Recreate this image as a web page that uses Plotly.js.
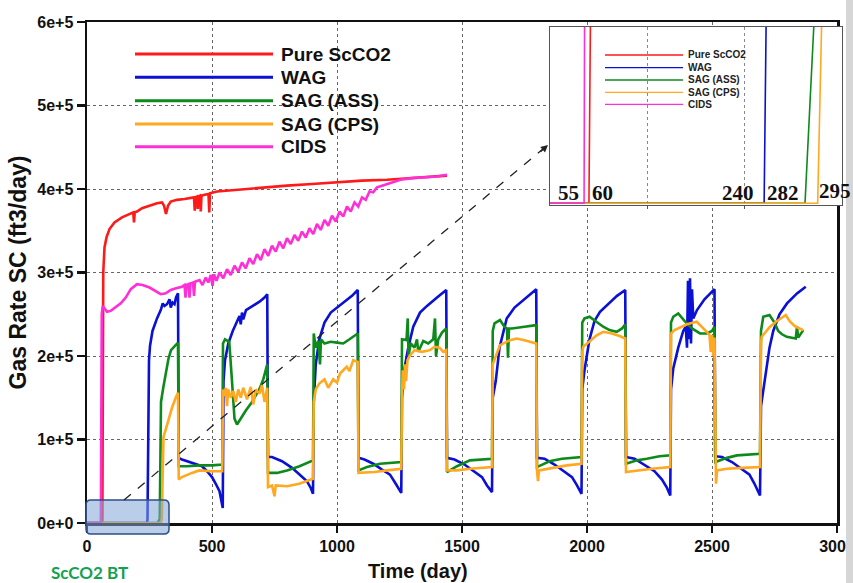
<!DOCTYPE html>
<html>
<head>
<meta charset="utf-8">
<script src="https://cdn.plot.ly/plotly-3.0.1.min.js"></script>
<style>html,body{margin:0;padding:0;background:#fff;}#chart{width:853px;height:583px;}</style>
</head>
<body>
<div id="chart"></div>
<script>
// ---------------- DATA (gas rate in units of 1e5 ft3/day) ----------------
const seriesNames = ['Pure ScCO2', 'WAG', 'SAG (ASS)', 'SAG (CPS)', 'CIDS'];
const seriesColors = ['#ff1a1a', '#0a10d4', '#0e8a1c', '#ffa820', '#ff2fd6'];

const pureScco2Points = [[0,0],[60,0],[61.5,0.05],[63,2.0],[65,3.0],[70,3.3],[78,3.42],[90,3.52],[110,3.6],[140,3.66],
 [170,3.7],[185,3.72],[188,3.6],[191,3.72],[200,3.73],[220,3.77],[250,3.8],[280,3.83],[300,3.84],[308,3.8],
 [316,3.7],[324,3.8],[335,3.85],[360,3.87],[390,3.88],[420,3.9],[428,3.9],[431,3.74],[434,3.9],[440,3.91],
 [443,3.76],[446,3.91],[452,3.92],[455,3.73],[458,3.92],[470,3.93],[486,3.94],[489,3.72],[492,3.95],[520,3.97],
 [600,3.99],[700,4.02],[800,4.04],[900,4.06],[1000,4.08],[1100,4.1],[1200,4.11],[1300,4.13],[1400,4.15],[1440,4.16]];

const wagPoints = [[0,0],[240,0],[242,0.05],[245,1.6],[248,1.95],[252,2.12],[262,2.3],[280,2.45],[295,2.55],[303,2.63],[310,2.6],[320,2.62],[330,2.68],[335,2.58],[342,2.64],[350,2.62],[356,2.7],[364,2.75],
 [367,0.78],[380,0.76],[420,0.72],[460,0.68],[480,0.62],[500,0.55],[515,0.47],[530,0.38],[543,0.18],
 [546,1.7],[552,1.95],[565,2.15],[583,2.3],[600,2.42],[610,2.48],[615,2.38],[620,2.52],[625,2.44],[636,2.55],[663,2.6],[690,2.65],[710,2.7],[721,2.74],
 [724,0.79],[740,0.79],[780,0.74],[820,0.66],[850,0.58],[880,0.5],[895,0.42],[904,0.35],
 [907,1.45],[915,1.9],[929,2.2],[950,2.4],[975,2.52],[1000,2.58],[1030,2.65],[1060,2.72],[1083,2.79],
 [1086,0.78],[1110,0.76],[1145,0.71],[1180,0.64],[1212,0.58],[1235,0.47],[1257,0.36],
 [1260,1.5],[1270,1.85],[1285,2.1],[1305,2.35],[1332,2.52],[1360,2.6],[1400,2.7],[1437,2.79],
 [1440,0.78],[1470,0.76],[1510,0.7],[1550,0.62],[1580,0.55],[1600,0.45],[1620,0.37],
 [1623,1.5],[1635,1.7],[1650,2.1],[1679,2.45],[1710,2.58],[1750,2.68],[1797,2.8],
 [1800,0.78],[1830,0.77],[1870,0.7],[1910,0.62],[1940,0.55],[1960,0.45],[1978,0.35],
 [1981,1.6],[1990,1.83],[2010,2.2],[2030,2.42],[2052,2.53],[2090,2.64],[2120,2.72],[2153,2.79],
 [2156,0.79],[2190,0.77],[2230,0.7],[2270,0.62],[2300,0.52],[2320,0.42],[2333,0.33],
 [2336,1.6],[2345,1.85],[2365,2.1],[2385,2.3],[2395,2.35],[2400,2.1],[2404,2.9],[2408,2.2],[2412,2.93],[2416,2.15],[2420,2.8],[2425,2.45],[2440,2.55],[2470,2.68],[2510,2.8],
 [2513,0.8],[2540,0.79],[2580,0.73],[2620,0.65],[2650,0.58],[2670,0.47],[2692,0.33],
 [2696,1.4],[2710,1.7],[2730,2.1],[2745,2.3],[2770,2.5],[2800,2.63],[2840,2.75],[2875,2.83]];

const sagAssPoints = [[0,0],[282,0],[291,0.05],[293,1.0],[296,1.45],[305,1.62],[316,1.83],[326,1.97],[336,2.07],[350,2.12],[364,2.16],
 [367,0.68],[400,0.68],[450,0.69],[500,0.69],[541,0.7],
 [544,2.15],[552,2.2],[569,2.17],[580,1.7],[590,1.25],[600,1.18],[620,1.28],[636,1.35],[660,1.45],[689,1.6],[705,1.72],[716,1.87],[721,1.9],
 [724,0.6],[760,0.6],[800,0.63],[850,0.68],[904,0.75],
 [907,2.27],[915,2.1],[925,2.18],[932,1.9],[936,2.2],[950,2.15],[975,2.17],[1000,2.16],[1025,2.15],[1050,2.2],[1065,2.23],[1083,2.27],
 [1086,0.63],[1120,0.67],[1172,0.71],[1220,0.72],[1257,0.73],
 [1260,2.2],[1278,2.19],[1283,2.45],[1286,2.0],[1295,2.15],[1310,2.1],[1320,2.2],[1325,2.05],[1345,2.18],[1365,2.15],[1385,2.2],[1392,2.45],[1396,2.0],[1405,2.2],[1420,2.28],[1437,2.33],
 [1440,0.61],[1480,0.68],[1532,0.75],[1580,0.76],[1620,0.77],
 [1623,2.3],[1630,2.39],[1652,2.43],[1670,2.35],[1680,2.33],[1684,1.98],[1688,2.33],[1700,2.33],[1750,2.35],[1797,2.37],
 [1800,0.67],[1850,0.74],[1900,0.77],[1978,0.79],
 [1981,2.4],[1990,2.45],[2010,2.47],[2040,2.4],[2065,2.35],[2090,2.31],[2119,2.29],[2140,2.33],[2153,2.38],
 [2156,0.71],[2200,0.75],[2239,0.77],[2290,0.8],[2333,0.81],
 [2336,2.4],[2345,2.47],[2365,2.51],[2390,2.42],[2420,2.33],[2452,2.27],[2480,2.27],[2500,2.3],[2510,2.35],
 [2513,0.73],[2560,0.78],[2600,0.81],[2650,0.82],[2692,0.83],
 [2696,2.3],[2705,2.47],[2730,2.49],[2750,2.4],[2765,2.3],[2780,2.26],[2799,2.23],[2820,2.22],[2835,2.21],[2840,2.35],[2845,2.22],[2865,2.31]];

const sagCpsPoints = [[0,0],[295,0],[299,0.05],[302,0.7],[306,1.03],[318,1.15],[329,1.27],[340,1.38],[356,1.51],[364,1.56],
 [367,0.52],[380,0.55],[420,0.6],[449,0.63],[500,0.62],[541,0.62],
 [544,1.6],[550,1.52],[555,1.62],[560,1.4],[565,1.6],[575,1.5],[585,1.58],[595,1.45],[605,1.6],[615,1.5],[625,1.62],[640,1.48],[655,1.63],[665,1.42],[675,1.6],[690,1.55],[700,1.65],[710,1.45],[721,1.62],
 [724,0.43],[740,0.45],[750,0.32],[755,0.45],[800,0.44],[849,0.47],[904,0.53],
 [907,1.45],[915,1.6],[929,1.67],[950,1.72],[965,1.62],[985,1.72],[1000,1.68],[1012,1.79],[1039,1.87],[1050,1.82],[1065,1.95],[1083,1.93],
 [1086,0.6],[1150,0.61],[1200,0.63],[1257,0.65],
 [1260,1.5],[1263,1.83],[1268,1.6],[1272,1.9],[1276,1.7],[1282,1.95],[1290,2.0],[1310,2.07],[1340,2.05],[1372,2.07],[1390,2.11],[1410,2.1],[1425,2.05],[1437,2.07],
 [1440,0.63],[1480,0.63],[1532,0.65],[1620,0.67],
 [1623,1.9],[1635,2.0],[1652,2.13],[1692,2.19],[1719,2.21],[1750,2.19],[1772,2.17],[1797,2.15],
 [1800,0.63],[1804,0.5],[1808,0.63],[1860,0.66],[1920,0.69],[1978,0.71],
 [1981,2.05],[1985,2.11],[2010,2.17],[2040,2.25],[2065,2.29],[2100,2.27],[2130,2.24],[2153,2.21],
 [2156,0.61],[2200,0.63],[2260,0.65],[2333,0.67],
 [2336,2.27],[2350,2.31],[2380,2.35],[2400,2.38],[2439,2.41],[2460,2.35],[2479,2.29],[2490,2.25],[2495,2.05],[2500,2.25],[2505,2.0],[2510,2.22],
 [2513,0.63],[2516,0.47],[2520,0.63],[2560,0.65],[2620,0.66],[2692,0.67],
 [2696,2.15],[2699,2.23],[2732,2.35],[2760,2.42],[2785,2.47],[2795,2.49],[2810,2.42],[2830,2.36],[2850,2.33],[2865,2.31]];

const cidsPoints = [[0,0],[55,0],[55.5,0.05],[57,1.5],[59,2.5],[63,2.6],[70,2.57],[80,2.53],[95,2.54],[115,2.58],[135,2.63],[155,2.7],[175,2.8],[200,2.86],[222,2.85],[250,2.82],[276,2.77],[295,2.74],[315,2.75],[335,2.79],[356,2.81],[380,2.83],[390,2.85],[394,2.7],[398,2.85],[406,2.86],[410,2.7],[414,2.87],[424,2.88],[428,2.72],[432,2.89],[450,2.91],[462,2.85],[475,2.94],[485,2.88],[495,2.97],[502,2.84],[508,2.98],[518,2.9],[530,3.0],[545,2.93],[560,3.04],[575,2.97],[590,3.08],[605,3.01],[620,3.12],[635,3.05],[650,3.17],[665,3.1],[680,3.22],[695,3.15],[710,3.28],[725,3.2],[740,3.32],[755,3.25],[770,3.37],[785,3.29],[800,3.41],[815,3.34],[830,3.45],[845,3.38],[860,3.49],[875,3.42],[890,3.53],[905,3.46],[920,3.58],[935,3.51],[950,3.63],[965,3.56],[980,3.68],[995,3.61],[1010,3.73],[1025,3.67],[1040,3.79],[1055,3.73],[1070,3.84],[1085,3.79],[1100,3.9],[1115,3.87],[1130,3.97],[1145,3.96],[1160,4.02],[1180,4.04],[1200,4.06],[1227,4.09],[1254,4.11],[1300,4.13],[1350,4.14],[1400,4.15],[1440,4.17]];

const breakthroughDays = ['55', '60', '240', '282', '295'];
const yTickVals = [0, 1, 2, 3, 4, 5, 6];
const yTickText = ['0e+0', '1e+5', '2e+5', '3e+5', '4e+5', '5e+5', '6e+5'];
const xTickVals = [0, 500, 1000, 1500, 2000, 2500, 3000];

// ---------------- LAYOUT HELPERS ----------------
const W = 853, H = 583;
const ML = 87, MR = 8, MT = 22, MB = 60;
const PW = W - ML - MR, PH = H - MT - MB;
const px = x => (x - ML) / PW;          // pixel x -> paper x
const py = y => (H - MB - y) / PH;      // pixel y -> paper y
const FONT = 'Liberation Sans, Arial, sans-serif';

const allSeries = [pureScco2Points, wagPoints, sagAssPoints, sagCpsPoints, cidsPoints];

const traces = [];
allSeries.forEach((pts, i) => {
  traces.push({
    type: 'scatter', mode: 'lines', name: seriesNames[i],
    x: pts.map(p => p[0]), y: pts.map(p => p[1]),
    line: {color: seriesColors[i], width: 2.6}, showlegend: false, hoverinfo: 'skip',
    xaxis: 'x', yaxis: 'y'
  });
});
allSeries.forEach((pts, i) => {
  traces.push({
    type: 'scatter', mode: 'lines', name: seriesNames[i] + ' (zoom)',
    x: pts.map(p => p[0]), y: pts.map(p => p[1]),
    line: {color: seriesColors[i], width: 1.6}, showlegend: false, hoverinfo: 'skip',
    xaxis: 'x2', yaxis: 'y2'
  });
});

const shapes = [];
const annotations = [];

// main legend (manual, long swatches)
const mainRows = [54, 77.3, 100.7, 124, 146.7];
seriesNames.forEach((n, i) => {
  shapes.push({type: 'line', xref: 'paper', yref: 'paper', x0: px(135), x1: px(273), y0: py(mainRows[i]), y1: py(mainRows[i]),
    line: {color: seriesColors[i], width: 3}});
  annotations.push({xref: 'paper', yref: 'paper', x: px(279), y: py(mainRows[i]), xanchor: 'left', yanchor: 'middle',
    text: n, showarrow: false, font: {family: FONT, size: 19, color: '#111', weight: 'bold'}});
});
// inset legend
const insetRows = [55, 67.7, 80, 92.3, 104.3];
seriesNames.forEach((n, i) => {
  shapes.push({type: 'line', xref: 'paper', yref: 'paper', x0: px(605), x1: px(683), y0: py(insetRows[i]), y1: py(insetRows[i]),
    line: {color: seriesColors[i], width: 1.3}});
  annotations.push({xref: 'paper', yref: 'paper', x: px(686), y: py(insetRows[i]), xanchor: 'left', yanchor: 'middle',
    text: n, showarrow: false, font: {family: FONT, size: 10, color: '#222', weight: 'bold'}});
});
// breakthrough labels in inset
const btLabelPos = [[568, 193], [602, 193], [738, 193], [783, 193], [835, 191]];
breakthroughDays.forEach((t, i) => {
  annotations.push({xref: 'paper', yref: 'paper', x: px(btLabelPos[i][0]), y: py(btLabelPos[i][1]),
    xanchor: 'center', yanchor: 'middle', text: t, showarrow: false,
    font: {family: 'Liberation Serif, Times New Roman, serif', size: 21, color: '#111', weight: 'bold'}});
});

// blue highlight box (rounded)
(function(){
  const x0 = px(86), x1 = px(169), yt = py(500), yb = py(534);
  const rx = 5 / PW, ry = 5 / PH;
  const path = `M${x0+rx},${yt} L${x1-rx},${yt} Q${x1},${yt} ${x1},${yt-ry} L${x1},${yb+ry} Q${x1},${yb} ${x1-rx},${yb} L${x0+rx},${yb} Q${x0},${yb} ${x0},${yb+ry} L${x0},${yt-ry} Q${x0},${yt} ${x0+rx},${yt} Z`;
  shapes.push({type: 'path', xref: 'paper', yref: 'paper', path: path,
    fillcolor: 'rgba(130,165,215,0.55)', line: {color: '#2c4f86', width: 1.5}, layer: 'above'});
})();

// dashed arrow toward inset
shapes.push({type: 'line', xref: 'paper', yref: 'paper', x0: px(124), y0: py(500), x1: px(544), y1: py(148),
  line: {color: '#222', width: 1.3, dash: 'dash'}});
annotations.push({xref: 'paper', yref: 'paper', axref: 'pixel', ayref: 'pixel', x: px(548), y: py(145), ax: -9, ay: 8,
  text: '', showarrow: true, arrowhead: 2, arrowsize: 1.1, arrowwidth: 1.3, arrowcolor: '#222'});

// right gray strip (scan edge)
shapes.push({type: 'rect', xref: 'paper', yref: 'paper', x0: px(846), x1: px(853), y0: py(583), y1: py(0),
  fillcolor: '#d6d6d6', line: {width: 0}, layer: 'above'});

// x title and BT label
annotations.push({xref: 'paper', yref: 'paper', x: px(418), y: py(571), xanchor: 'center', yanchor: 'middle',
  text: 'Time (day)', showarrow: false, font: {family: FONT, size: 20, color: '#111', weight: 'bold'}});
annotations.push({xref: 'paper', yref: 'paper', x: px(89), y: py(572), xanchor: 'center', yanchor: 'middle',
  text: 'ScCO2 BT', showarrow: false, font: {family: 'Lato, Liberation Sans, sans-serif', size: 17, color: '#12a24f', weight: 'bold'}});

const layout = {
  width: W, height: H,
  margin: {l: ML, r: MR, t: MT, b: MB, pad: 0},
  paper_bgcolor: '#ffffff', plot_bgcolor: '#ffffff',
  showlegend: false,
  font: {family: FONT, color: '#111'},
  xaxis: {
    domain: [0, 750 / PW], range: [0, 3000], tickmode: 'array', tickvals: xTickVals,
    ticks: 'outside', ticklen: 7, tickwidth: 2.5, tickcolor: '#111', ticklabeloverflow: 'allow',
    showline: true, linecolor: '#111', linewidth: 2.5, mirror: true,
    showgrid: true, gridcolor: '#666', gridwidth: 1, griddash: 'dot', zeroline: false,
    tickfont: {family: FONT, size: 16, color: '#111', weight: 'bold'}, fixedrange: true
  },
  yaxis: {
    domain: [0, 1], range: [0, 6], tickmode: 'array', tickvals: yTickVals, ticktext: yTickText,
    ticks: 'outside', ticklen: 8, tickwidth: 2.5, tickcolor: '#111', ticklabeloverflow: 'allow',
    showline: true, linecolor: '#111', linewidth: 2.5, mirror: true,
    showgrid: true, gridcolor: '#666', gridwidth: 1, griddash: 'dot', zeroline: false,
    tickfont: {family: FONT, size: 16, color: '#111', weight: 'bold'},
    title: {text: 'Gas Rate SC (ft3/day)', font: {family: FONT, size: 23, color: '#111', weight: 'bold'}, standoff: 4},
    fixedrange: true
  },
  xaxis2: {
    domain: [px(550), px(842)], range: [20, 320], anchor: 'y2',
    tickmode: 'array', tickvals: [120, 220], showticklabels: false,
    ticks: 'outside', ticklen: 3, tickcolor: '#555',
    showline: true, linecolor: '#555', linewidth: 1, mirror: true,
    showgrid: true, gridcolor: '#888', gridwidth: 1, griddash: 'dot', zeroline: false, fixedrange: true
  },
  yaxis2: {
    domain: [py(205), py(27)], range: [-0.0005, 0.05], anchor: 'x2',
    showticklabels: false, ticks: '', showgrid: false, zeroline: false,
    showline: true, linecolor: '#555', linewidth: 1, mirror: true, fixedrange: true
  },
  shapes: shapes,
  annotations: annotations
};

Plotly.newPlot('chart', traces, layout, {staticPlot: true, displayModeBar: false});
</script>
</body>
</html>
